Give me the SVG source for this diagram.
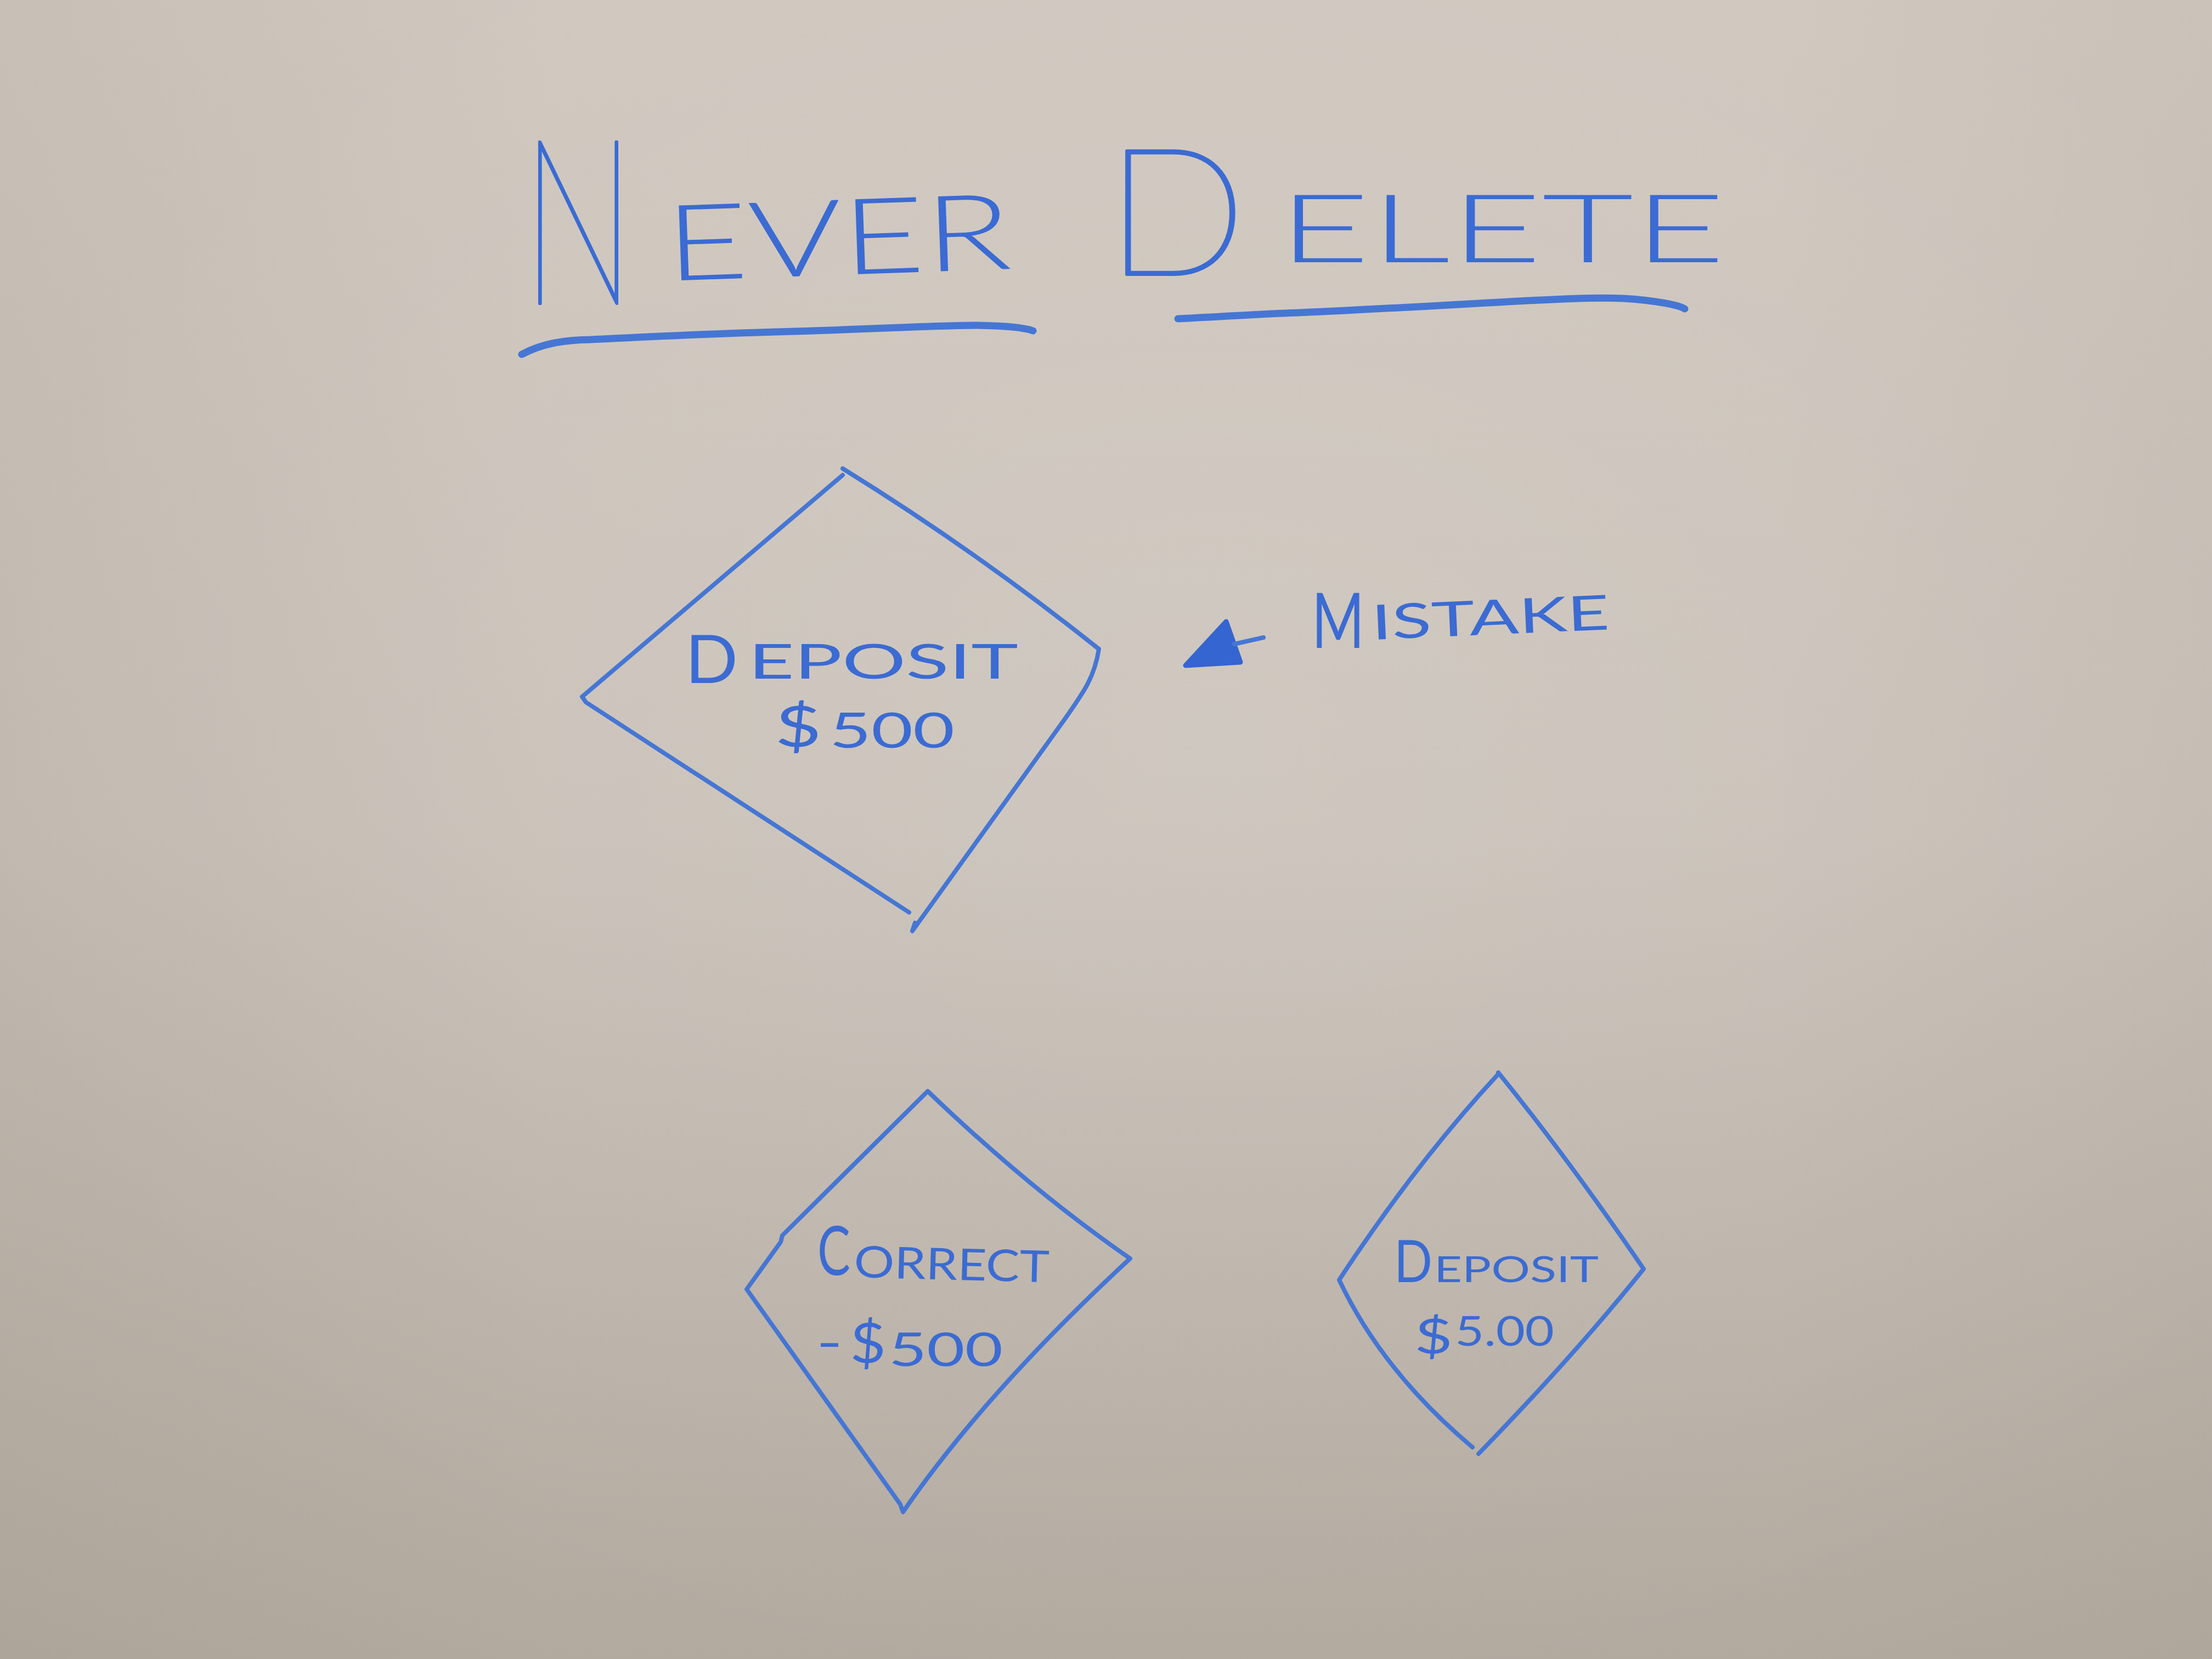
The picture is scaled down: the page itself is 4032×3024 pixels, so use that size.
<svg xmlns="http://www.w3.org/2000/svg" width="4032" height="3024" viewBox="0 0 4032 3024">
<defs>
<linearGradient id="bg" x1="0" y1="0" x2="0" y2="1">
<stop offset="0" stop-color="#d0c8bf"/>
<stop offset="0.5" stop-color="#c9c1b8"/>
<stop offset="1" stop-color="#b2a99f"/>
</linearGradient>
<radialGradient id="glow" cx="0.55" cy="0.45" r="0.6">
<stop offset="0" stop-color="#ffffff" stop-opacity="0.10"/>
<stop offset="1" stop-color="#ffffff" stop-opacity="0"/>
</radialGradient>
<linearGradient id="side" x1="0" y1="0" x2="1" y2="0">
<stop offset="0" stop-color="#8a8075" stop-opacity="0.12"/>
<stop offset="0.25" stop-color="#8a8075" stop-opacity="0"/>
<stop offset="0.8" stop-color="#8a8075" stop-opacity="0"/>
<stop offset="1" stop-color="#8a8075" stop-opacity="0.08"/>
</linearGradient>
</defs>
<style>
.ink{fill:none;stroke:#4676d4;stroke-width:8;stroke-linecap:round;stroke-linejoin:round}
.under{stroke-width:13}
.txt{fill:#3b6bd3;font-family:Lato,'Liberation Sans','DejaVu Sans',sans-serif;font-weight:400}
.big{font-weight:100;stroke:#3b6bd3;stroke-width:6;stroke-linejoin:round}
.mid{font-weight:300}
</style>
<rect width="4032" height="3024" fill="url(#bg)"/>
<rect width="4032" height="3024" fill="url(#glow)"/>
<rect width="4032" height="3024" fill="url(#side)"/>

<g id="title">
<text class="txt big" x="951" y="553" font-size="420" textLength="206" lengthAdjust="spacingAndGlyphs">N</text>
<text class="txt mid" transform="rotate(-2 1215 512)" x="1215" y="512" font-size="193" textLength="631" lengthAdjust="spacingAndGlyphs">EVER</text>
<text class="txt big" x="2015" y="500" font-size="321" textLength="257" lengthAdjust="spacingAndGlyphs">D</text>
<text class="txt mid" x="2330" y="478" font-size="173" textLength="815" lengthAdjust="spacingAndGlyphs">ELETE</text>
<path class="ink under" d="M951,646 C990,625 1030,620 1076,619 C1200,613 1300,608 1413,605 C1600,600 1700,593 1780,593 C1840,594 1870,598 1883,603"/>
<path class="ink under" d="M2147,581 C2250,576 2300,572 2367,570 C2550,562 2700,552 2807,547 C2880,543 2920,542 2960,544 C3020,548 3060,556 3071,563"/>
</g>

<g id="node-deposit-500">
<path class="ink" d="M1536,866 L1061,1270 L1068,1280 L1657,1663"/>
<path class="ink" d="M1536,854 Q1780,1005 2003,1183 C1995,1235 1975,1262 1940,1312 L1663,1697 L1668,1682"/>
<text class="txt" x="1249" y="1245" font-size="122" textLength="96" lengthAdjust="spacingAndGlyphs">D</text>
<text class="txt" x="1364" y="1237" font-size="88" textLength="492" lengthAdjust="spacingAndGlyphs">EPOSIT</text>
<text class="txt" x="1412" y="1361" font-size="102" textLength="86" lengthAdjust="spacingAndGlyphs">$</text>
<text class="txt" x="1512" y="1363" font-size="90" textLength="228" lengthAdjust="spacingAndGlyphs">500</text>
</g>

<g id="label-mistake">
<text class="txt" x="2391" y="1181" font-size="140" textLength="96" lengthAdjust="spacingAndGlyphs">M</text>
<text class="txt" transform="rotate(-2.5 2501 1166)" x="2501" y="1166" font-size="88" textLength="434" lengthAdjust="spacingAndGlyphs">ISTAKE</text>
</g>

<g id="connectors">
<path d="M2161,1213 L2235,1133 L2261,1207 Z" fill="#3565d0" stroke="#3565d0" stroke-width="9" stroke-linejoin="round"/>
<path class="ink" d="M2250,1174 L2303,1162"/>
</g>

<g id="node-correct">
<path class="ink" d="M1691,1989 Q1880,2170 2060,2294 Q1797,2537 1646,2756 L1641,2742 Q1479,2516 1361,2350 L1423,2264 L1426,2252 L1691,1989 Z"/>
<text class="txt" x="1490" y="2324" font-size="125" textLength="60" lengthAdjust="spacingAndGlyphs">C</text>
<text class="txt" transform="rotate(1.5 1556 2328)" x="1556" y="2328" font-size="80" textLength="356" lengthAdjust="spacingAndGlyphs">ORRECT</text>
<text class="txt" x="1488" y="2478" font-size="90" textLength="48" lengthAdjust="spacingAndGlyphs">-</text>
<text class="txt" x="1549" y="2484" font-size="100" textLength="66" lengthAdjust="spacingAndGlyphs">$</text>
<text class="txt" x="1620" y="2490" font-size="86" textLength="208" lengthAdjust="spacingAndGlyphs">500</text>
</g>

<g id="node-deposit-5">
<path class="ink" d="M2729,1960 Q2581,2120 2441,2333 Q2520,2500 2684,2638"/>
<path class="ink" d="M2731,1955 Q2860,2114 2996,2313 Q2870,2470 2695,2650"/>
<text class="txt" x="2541" y="2337" font-size="107" textLength="70" lengthAdjust="spacingAndGlyphs">D</text>
<text class="txt" x="2614" y="2337" font-size="66" textLength="300" lengthAdjust="spacingAndGlyphs">EPOSIT</text>
<text class="txt" x="2578" y="2467" font-size="88" textLength="70" lengthAdjust="spacingAndGlyphs">$</text>
<text class="txt" x="2652" y="2453" font-size="75" textLength="181" lengthAdjust="spacingAndGlyphs">5.00</text>
</g>
</svg>
